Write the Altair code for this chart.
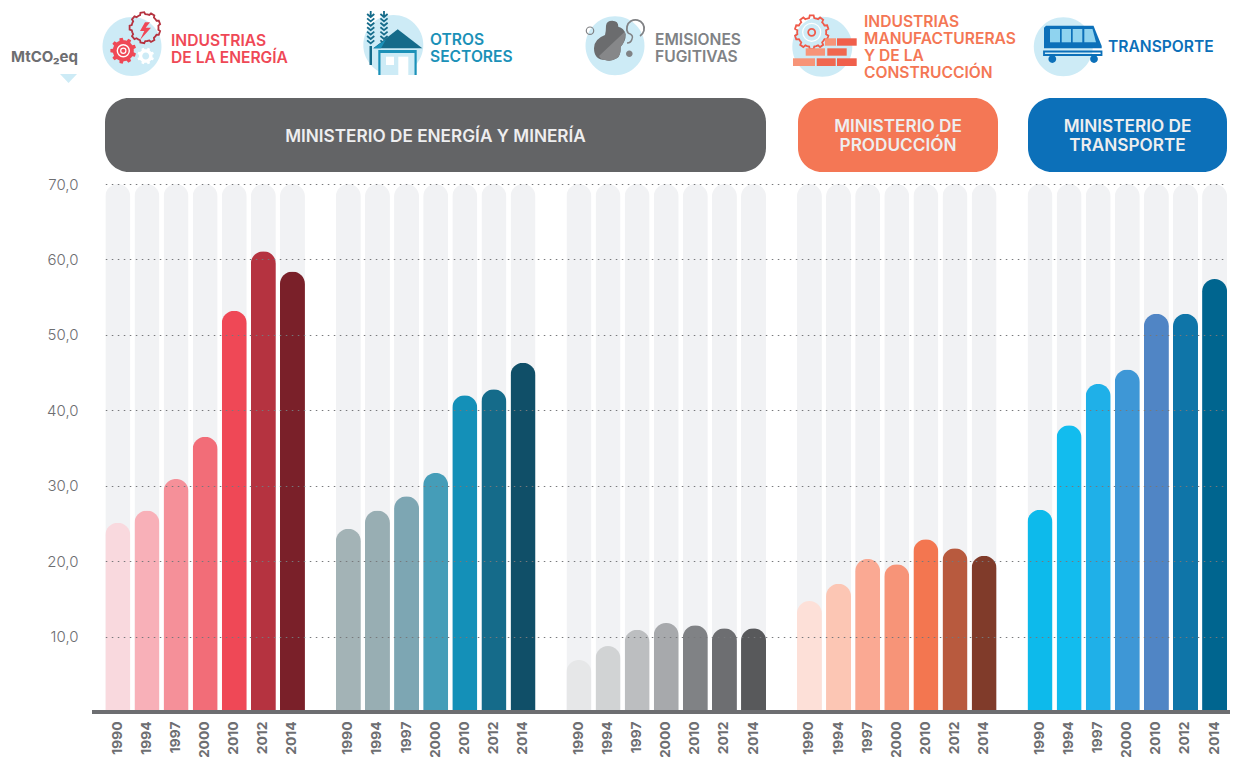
import math
import altair as alt
import pandas as pd

YEARS = ["1990", "1994", "1997", "2000", "2010", "2012", "2014"]
GROUPS = ["Industrias de la energía", "Otros sectores", "Emisiones fugitivas",
          "Industrias manufactureras y de la construcción", "Transporte"]
VALUES = {
    GROUPS[0]: [25.1, 26.7, 30.9, 36.5, 53.2, 61.1, 58.4],
    GROUPS[1]: [24.3, 26.7, 28.6, 31.7, 42.0, 42.8, 46.3],
    GROUPS[2]: [6.9, 8.75, 10.9, 11.8, 11.5, 11.1, 11.1],
    GROUPS[3]: [14.7, 17.0, 20.3, 19.6, 22.9, 21.7, 20.7],
    GROUPS[4]: [26.8, 38.0, 43.5, 45.4, 52.8, 52.8, 57.4],
}
COLORS = {
    GROUPS[0]: ["#f9d9de", "#f8b0b8", "#f59099", "#f26d78", "#ef4856", "#b53340", "#7a2029"],
    GROUPS[1]: ["#a3b3b6", "#98aeb3", "#7da6b3", "#459db8", "#1490b8", "#156b8a", "#104f68"],
    GROUPS[2]: ["#e6e7e8", "#d1d3d4", "#bcbec0", "#a7a9ac", "#808285", "#6d6e71", "#58595b"],
    GROUPS[3]: ["#fde0d8", "#fcc6b4", "#faa993", "#f79478", "#f37650", "#b85a3e", "#803b2a"],
    GROUPS[4]: ["#0dbaeb", "#12bcee", "#1fb0e8", "#3e97d6", "#5085c5", "#0f75a8", "#00658f"],
}
TICKS = [10, 20, 30, 40, 50, 60, 70]
MAX_VALUE = 70

HEADERS = [
    (105, 766, "#636466", [("MINISTERIO DE ENERGÍA Y MINERÍA", 137)]),
    (798, 998, "#f47755", [("MINISTERIO DE", 127), ("PRODUCCIÓN", 146)]),
    (1028, 1227, "#0c70b9", [("MINISTERIO DE", 127), ("TRANSPORTE", 146)]),
]
LEGEND = [
    (171, "#ef4856", [("INDUSTRIAS", 41), ("DE LA ENERGÍA", 58)]),
    (430, "#1b91b8", [("OTROS", 39.5), ("SECTORES", 56.5)]),
    (655, "#808285", [("EMISIONES", 39.5), ("FUGITIVAS", 56.5)]),
    (864, "#f47755", [("INDUSTRIAS", 22), ("MANUFACTURERAS", 39), ("Y DE LA", 56), ("CONSTRUCCIÓN", 73)]),
    (1108, "#0c70b9", [("TRANSPORTE", 46.5)]),
]

PAD_L, PAD_T = 84, 176
OX, OY = 8 + PAD_L, 8 + PAD_T
W, H = 1138, 528
FONT = "Inter"
ONE = alt.Data(values=[{"a": 1}])

rows = []
for g in GROUPS:
    for y, v, c in zip(YEARS, VALUES[g], COLORS[g]):
        rows.append({"group": g, "year": y, "value": v, "color": c, "full": MAX_VALUE})
df = pd.DataFrame(rows)

x_enc = alt.X("group:N", axis=None, title=None,
              scale=alt.Scale(domain=GROUPS, range=[13.3, 1135.1], paddingInner=0.134,
                              paddingOuter=0, round=False))
xo_enc = alt.XOffset("year:N", scale=alt.Scale(domain=YEARS, paddingInner=0.141,
                                               paddingOuter=0, round=False))
y_scale = alt.Scale(domain=[0, MAX_VALUE], nice=False)
RADIUS = 12.5

background = alt.Chart(df).mark_bar(
    color="#f1f2f4", cornerRadiusTopLeft=RADIUS, cornerRadiusTopRight=RADIUS
).encode(
    x=x_enc, xOffset=xo_enc,
    y=alt.Y("full:Q", scale=y_scale, title=None, axis=alt.Axis(
        values=TICKS, domain=False, ticks=False, labelPadding=14, zindex=1,
        labelExpr="replace(format(datum.value,'.1f'),'.',',')",
        labelFont=FONT, labelFontSize=15, labelFontWeight=300, labelColor="#6d6e71",
        grid=True, gridColor="#77787b", gridDash=[1.5, 4.5], gridWidth=1.2)),
)
bars = alt.Chart(df).mark_bar(
    cornerRadiusTopLeft=RADIUS, cornerRadiusTopRight=RADIUS
).encode(
    x=x_enc, xOffset=xo_enc,
    y=alt.Y("value:Q", scale=y_scale, title=None),
    color=alt.Color("color:N", scale=None, legend=None),
)
year_labels = alt.Chart(df).mark_text(
    angle=270, align="right", baseline="middle", font=FONT, fontWeight=700,
    fontSize=13.8, color="#6d6e71"
).encode(x=x_enc, xOffset=xo_enc, y=alt.value(721.5 - OY), text="year:N")
baseline = alt.Chart(ONE).mark_rule(color="#6d6e71", strokeWidth=4).encode(
    y=alt.value(H), x=alt.value(0), x2=alt.value(W))


def txt(px, py, s, color, size=15, align="left", weight=700):
    return alt.Chart(ONE).mark_text(
        text=s, font=FONT, fontSize=size, fontWeight=weight, color=color,
        align=align, baseline="middle"
    ).encode(x=alt.value(px - OX), y=alt.value(py - OY))


def sym(path, fill=None, stroke=None, sw=1.0):
    kw = {"shape": path, "size": 4, "opacity": 1}
    kw["filled"] = fill is not None
    if fill is not None:
        kw["fill"] = fill
    if stroke is not None:
        kw["stroke"] = stroke
        kw["strokeWidth"] = sw
    else:
        kw["strokeWidth"] = 0
    return alt.Chart(ONE).mark_point(**kw).encode(x=alt.value(-OX), y=alt.value(-OY))


def circle(cx, cy, r):
    return f"M{cx - r} {cy}A{r} {r} 0 1 0 {cx + r} {cy}A{r} {r} 0 1 0 {cx - r} {cy}Z"


def rect(x0, y0, x1, y1):
    return f"M{x0} {y0}L{x1} {y0}L{x1} {y1}L{x0} {y1}Z"


def poly(*pts):
    return "M" + "L".join(f"{a} {b}" for a, b in pts) + "Z"


def gear(cx, cy, r_out, r_in, teeth):
    pts = []
    for i in range(teeth):
        base = 2 * math.pi * i / teeth
        step = 2 * math.pi / teeth
        for frac, r in ((0.0, r_in), (0.22, r_in), (0.32, r_out), (0.68, r_out), (0.78, r_in)):
            a = base + frac * step
            pts.append((round(cx + r * math.cos(a), 2), round(cy + r * math.sin(a), 2)))
    return poly(*pts)


def wheat(x, top, n, gap):
    out = []
    for i in range(n):
        y = top + i * gap
        out.append(f"M{x - 3.6} {y}L{x} {y + 3}L{x + 3.6} {y}")
    return "".join(out) + f"M{x} {top - 3}L{x} {top + 2}"


SKY = "#cdebf6"
icons = []
# energy
icons += [sym(circle(132, 46.5, 29.5), SKY),
          sym(gear(145, 27.7, 15.5, 13.5, 9), "#ffffff00", "#b53340", 1.8),
          sym(poly((145, 22.3), (140, 31), (144.3, 31), (140, 40), (151, 27.7), (145.7, 27.7), (150, 22.3)), "#ef4856"),
          sym(gear(123.3, 50.7, 13, 10.5, 9), "#ef4856"),
          sym(circle(123.3, 50.7, 6), None, "#ffffff", 1.4),
          sym(circle(123.3, 50.7, 2.6), None, "#ffffff", 1.2),
          sym(gear(145.7, 56, 8.5, 6.8, 8), "#ffffff"),
          sym(circle(145.7, 56, 3.5), SKY)]
# other sectors
icons += [sym(circle(393.3, 45, 30), SKY),
          sym(wheat(370.7, 14, 7, 4.4), None, "#156b8a", 1.8),
          sym(wheat(384, 14, 7, 4.4), None, "#156b8a", 1.8),
          sym(rect(369.5, 46, 372, 65), "#156b8a"),
          sym(rect(378.3, 50, 416.7, 75), "#1b91b8"),
          sym(rect(380.5, 53, 414.5, 75), SKY),
          sym(rect(386, 56.7, 394, 65), "#ffffff"),
          sym(rect(398.3, 56.7, 408.3, 75), "#ffffff"),
          sym(poly((397.7, 29.3), (373.3, 48.3), (422.3, 48.3)), "#156b8a"),
          sym(poly((386, 39.5), (373.3, 48.3), (381, 48.3)), "#1b91b8")]
# fugitive
icons += [sym(circle(615, 45.7, 29.5), SKY),
          sym("M612.3 20.7Q618.5 20.7 618.3 26.7Q624 28 625.7 34.3Q626 41 620.7 46.7Q621 56 616.7 58.3"
              "Q611 62 605 60Q594 60 594 48.3Q594 39 605 35Q606 31 606 25.7Q606.5 20.7 612.3 20.7Z", "#6b6c6e"),
          sym("M625 31.5Q626 41 620.7 46.7Q621 56 616.7 58.3Q611 62 605 60Q601 60 599 56Z", "#868789"),
          sym("M628 33A8.7 8.7 0 1 1 640 36", None, "#808285", 1.8),
          sym("M628 33Q634 35 632 39Q631 43 627 43", None, "#808285", 1.5),
          sym(circle(590, 30.7, 3.7), None, "#808285", 1.2),
          sym(circle(629.3, 53.7, 3.3), "#808285")]
# manufacturing
icons += [sym(circle(822.3, 46.7, 30), SKY),
          sym(gear(811.7, 32.3, 17, 14.5, 10), "#ffffff00", "#ef5a4a", 1.8),
          sym(circle(811.7, 32.3, 9), None, "#ffffff", 1.2),
          sym(circle(811.7, 32.3, 3.5), None, "#ef5a4a", 1.8)]
for box, c in [((825, 38.3, 836, 45.7), "#f79478"), ((837, 38.3, 856.7, 45.7), "#f05f4b"),
               ((805.7, 48.3, 825, 55.7), "#f79478"), ((827.3, 48.3, 846.7, 55.7), "#f0674f"),
               ((793, 58.3, 815, 66), "#f79478"), ((816.7, 58.3, 835.7, 66), "#f0674f"),
               ((837, 58.3, 856.7, 66), "#f05f4b")]:
    icons.append(sym(rect(*box), c))
# transport
icons += [sym(circle(1063.3, 46.7, 29.5), SKY),
          sym(poly((1046, 25.7), (1093.5, 25.7), (1101.7, 46), (1101.7, 48.3), (1044, 48.3), (1044, 27.7)), "#0c70b9"),
          sym(rect(1050, 29, 1060, 42.3), "#8fd3ef"),
          sym(rect(1061.7, 29, 1071, 42.3), "#8fd3ef"),
          sym(rect(1072.7, 29, 1082.3, 42.3), "#8fd3ef"),
          sym(poly((1084.3, 29), (1092.5, 29), (1096, 42.3), (1084.3, 42.3)), "#8fd3ef"),
          sym(rect(1044, 51.5, 1101.5, 55), None, "#0c70b9", 1.8),
          sym(circle(1052.3, 59, 3.9), "#0c70b9"),
          sym(circle(1094, 59, 3.9), "#0c70b9")]

texts = []
for x0, x1, color, lines in HEADERS:
    box = alt.Chart(ONE).mark_rect(color=color, cornerRadius=24).encode(
        x=alt.value(x0 - OX), x2=alt.value(x1 - OX), y=alt.value(98 - OY), y2=alt.value(172 - OY))
    texts.append(box)
    for s, py in lines:
        texts.append(txt((x0 + x1) / 2, py, s, "#eeeeef", size=17.2, align="center", weight=600))
for px, color, lines in LEGEND:
    for s, py in lines:
        texts.append(txt(px, py, s, color, size=15.6, weight=600))

texts.append(txt(78, 57, "MtCO₂eq", "#6d6e71", size=15, align="right"))
icons.append(sym(poly((60, 74), (77, 74), (68.5, 83)), SKY))

chart = alt.layer(background, bars, year_labels, baseline, *icons, *texts).properties(
    width=W, height=H, autosize="none",
    padding={"left": PAD_L, "top": PAD_T, "right": 0, "bottom": 45},
).configure_view(stroke=None)

chart.save("out.html", embed_options={"renderer": "svg", "actions": False})
